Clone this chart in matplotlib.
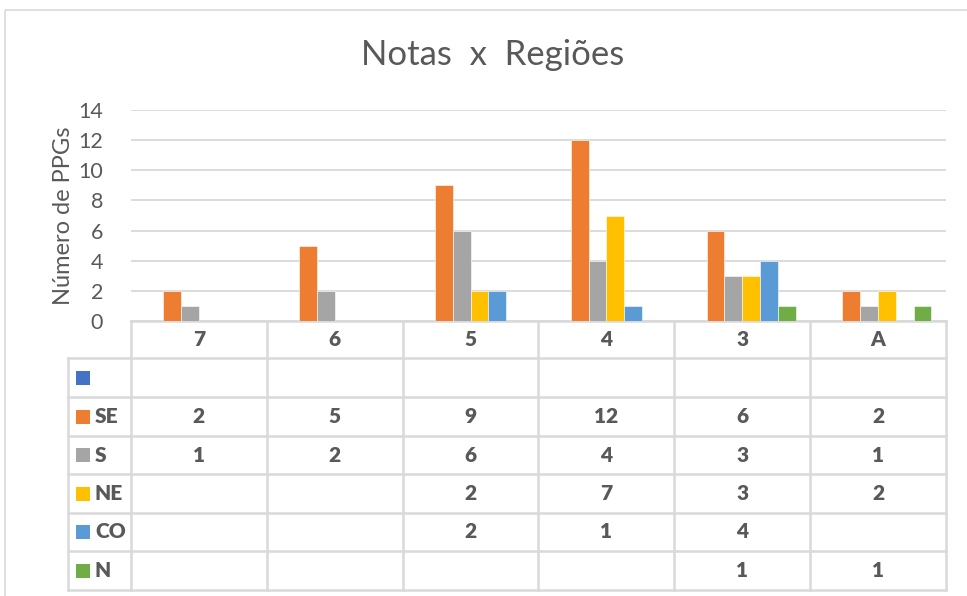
import numpy as np
import matplotlib
matplotlib.use("Agg")
import matplotlib.pyplot as plt
from matplotlib.transforms import blended_transform_factory
from matplotlib.patches import Rectangle

plt.rcParams['font.family'] = ['Lato', 'DejaVu Sans']

categories = ['7', '6', '5', '4', '3', 'A']
series_names = ['', 'SE', 'S', 'NE', 'CO', 'N']
blank = [np.nan, np.nan, np.nan, np.nan, np.nan, np.nan]
se = [2, 5, 9, 12, 6, 2]
s = [1, 2, 6, 4, 3, 1]
ne = [np.nan, np.nan, 2, 7, 3, 2]
co = [np.nan, np.nan, 2, 1, 4, np.nan]
n = [np.nan, np.nan, np.nan, np.nan, 1, 1]
series_values = [blank, se, s, ne, co, n]
colors = ['#4472C4', '#ED7D31', '#A5A5A5', '#FFC000', '#5B9BD5', '#70AD47']

W, H = 967, 596
text_gray = '#595959'
line_gray = '#D9D9D9'

fig = plt.figure(figsize=(W / 100, H / 100), dpi=100)

# overlay axes in pixel coordinates for border and table
tab = fig.add_axes([0, 0, 1, 1], zorder=0)
tab.set_xlim(0, W)
tab.set_ylim(H, 0)
tab.axis('off')

tab.add_patch(Rectangle((5, 10), W + 5, H, fill=False, edgecolor=line_gray, lw=1.2))

ax = fig.add_axes([131 / W, (H - 321) / H, (946 - 131) / W, (321 - 110) / H], zorder=1)
ax.patch.set_alpha(0)

x = np.arange(len(categories))
bw = 0.131
for i, (vals, c) in enumerate(zip(series_values, colors)):
    ax.bar(x + (i - 2.5) * bw, vals, width=bw, color=c, edgecolor='white', linewidth=0.4, zorder=3)

ax.set_xlim(-0.5, len(categories) - 0.5)
ax.set_ylim(0, 14)
ax.set_yticks(range(0, 15, 2))
ax.grid(axis='y', color=line_gray, linewidth=1.3, zorder=0)
ax.set_xticks([])
ax.tick_params(axis='y', length=0, pad=20, labelsize=15.5, labelcolor=text_gray)
for sp in ['top', 'right', 'left']:
    ax.spines[sp].set_visible(False)
ax.spines['bottom'].set_color(line_gray)
ax.spines['bottom'].set_linewidth(1.5)
ax.set_ylabel('Número de PPGs', fontsize=17, color=text_gray, labelpad=3)

fig.text(493 / W, 1 - 55 / H, 'Notas  x  Regiões', ha='center', va='center',
         fontsize=25, color=text_gray)

# data table below the axis
trans = blended_transform_factory(ax.transData, tab.transData)
row_lines = [321, 358, 397, 436, 474, 513, 551, 590]
tl = dict(color=line_gray, lw=1.8, zorder=2)
ncat = len(categories)
for k, yv in enumerate(row_lines):
    tab.plot([-0.5, ncat - 0.5], [yv, yv], transform=trans, **tl)
    if k >= 1:
        tab.plot([68, 131], [yv, yv], **tl)
for j in range(ncat + 1):
    tab.plot([j - 0.5, j - 0.5], [row_lines[0], row_lines[-1]], transform=trans, **tl)
tab.plot([68, 68], [row_lines[1], row_lines[-1]], **tl)

bold = dict(fontsize=15, fontweight='heavy', color=text_gray)
for j, cat in enumerate(categories):
    yc = (row_lines[0] + row_lines[1]) / 2
    tab.text(j, yc, cat, transform=trans, ha='center', va='center', **bold)

for r, (name, vals, c) in enumerate(zip(series_names, series_values, colors)):
    yc = (row_lines[r + 1] + row_lines[r + 2]) / 2
    tab.add_patch(Rectangle((76, yc - 7), 14, 14, facecolor=c, edgecolor='none'))
    tab.text(95, yc, name, ha='left', va='center', **bold)
    for j, v in enumerate(vals):
        if not np.isnan(v):
            tab.text(j, yc, f'{int(v)}', transform=trans, ha='center', va='center', **bold)

fig.savefig('out.png', dpi=100)
